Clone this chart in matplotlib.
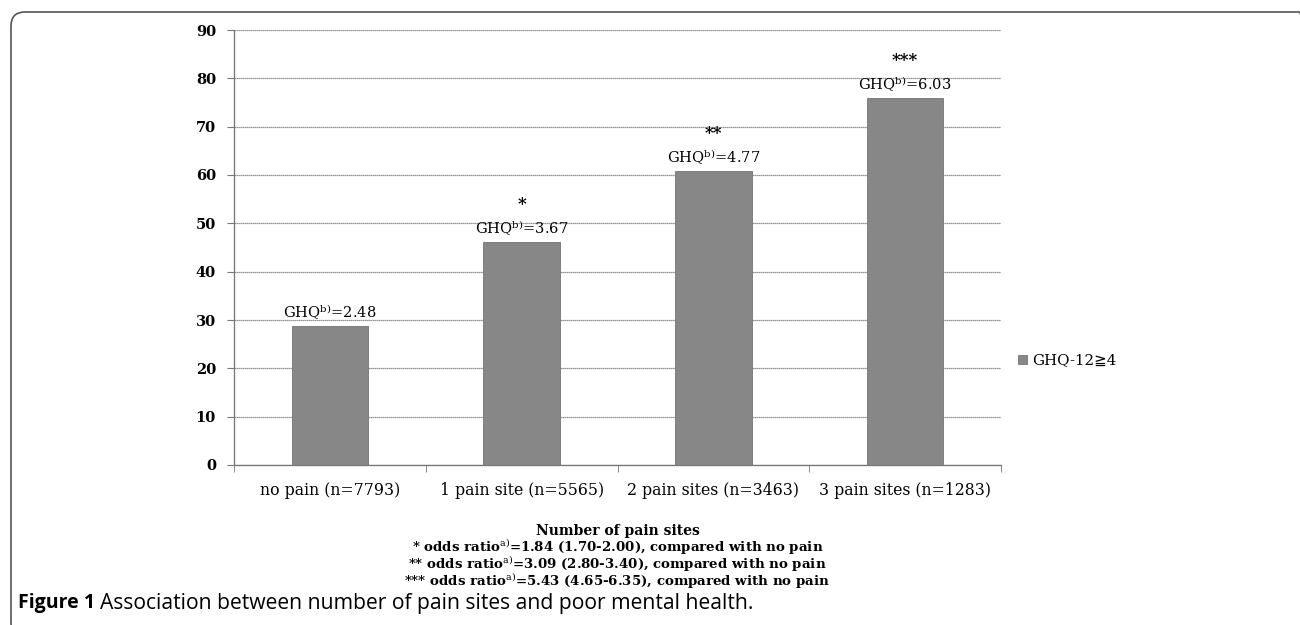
import matplotlib.pyplot as plt
from matplotlib.patches import FancyBboxPatch

categories = ["no pain (n=7793)", "1 pain site (n=5565)",
              "2 pain sites (n=3463)", "3 pain sites (n=1283)"]
values = [28.8, 46.2, 60.8, 75.9]
ghq_labels = ["2.48", "3.67", "4.77", "6.03"]
stars = ["", "*", "**", "***"]
series_name = "GHQ-12\u22674"
yticks = [0, 10, 20, 30, 40, 50, 60, 70, 80, 90]
notes = ["* odds ratio$^{\\mathrm{a)}}$=1.84 (1.70-2.00), compared with no pain",
         "** odds ratio$^{\\mathrm{a)}}$=3.09 (2.80-3.40), compared with no pain",
         "*** odds ratio$^{\\mathrm{a)}}$=5.43 (4.65-6.35), compared with no pain"]

plt.rcParams['font.family'] = ['DejaVu Serif', 'DejaVu Sans']
plt.rcParams['mathtext.fontset'] = 'dejavuserif'

fig = plt.figure(figsize=(13, 6.25), dpi=100)
ax = fig.add_axes([0.18, 0.256, 0.59, 0.696])

x = range(len(categories))
bars = ax.bar(x, values, width=0.4, color='#878787', edgecolor='#747474',
              linewidth=0.6, label=series_name, zorder=3)

for i, b in enumerate(bars):
    cx = b.get_x() + b.get_width() / 2
    ax.annotate("GHQ$^{\\mathrm{b)}}$=" + ghq_labels[i], (cx, b.get_height()),
                xytext=(0, 3), textcoords='offset points', ha='center', va='bottom',
                fontsize=10.5)
    if stars[i]:
        ax.annotate(stars[i], (cx, b.get_height()), xytext=(0, 21),
                    textcoords='offset points', ha='center', va='bottom',
                    fontsize=12, fontweight='bold')

ax.set_ylim(0, 90)
ax.set_xlim(-0.5, len(categories) - 0.5)
ax.set_yticks(yticks)
ax.set_xticks(list(x))
ax.set_xticklabels(categories, fontsize=11.3)
ax.tick_params(axis='y', labelsize=10.5, length=5, color='#777777', pad=8)
ax.tick_params(axis='x', length=0, pad=12)
for lbl in ax.get_yticklabels():
    lbl.set_fontweight('bold')
# small ticks between categories
ax.set_xticks([i - 0.5 for i in range(len(categories) + 1)], minor=True)
ax.tick_params(axis='x', which='minor', length=5, color='#777777')

ax.grid(axis='y', color='#777777', linestyle=(0, (1, 0.6)), linewidth=0.9, zorder=0)
for s in ['top', 'right']:
    ax.spines[s].set_visible(False)
for s in ['left', 'bottom']:
    ax.spines[s].set_color('#777777')
    ax.spines[s].set_linestyle((0, (1, 0.6)))
    ax.spines[s].set_linewidth(0.9)

ax.legend(loc='center left', bbox_to_anchor=(1.005, 0.24), frameon=False,
          handlelength=0.6, handleheight=0.6, handletextpad=0.3, fontsize=10.8)

fig.text(0.475, 0.15, "Number of pain sites", ha='center', va='center',
         fontsize=10, fontweight='bold')
for k, line in enumerate(notes):
    fig.text(0.475, 0.1245 - k * 0.027, line, ha='center', va='center',
             fontsize=9.6, fontweight='bold')

fig.text(0.014, 0.035, "Figure 1", fontsize=14, fontweight='bold',
         family='Open Sans', va='center')
fig.text(0.077, 0.035, "Association between number of pain sites and poor mental health.",
         fontsize=15.2, family='Open Sans', va='center')

frame = FancyBboxPatch((11, -12), 1302, 625, boxstyle="round,pad=0,rounding_size=14",
                       transform=None, fill=False, edgecolor='#555555', linewidth=1.2)
fig.patches.append(frame)

plt.savefig("out.png")
